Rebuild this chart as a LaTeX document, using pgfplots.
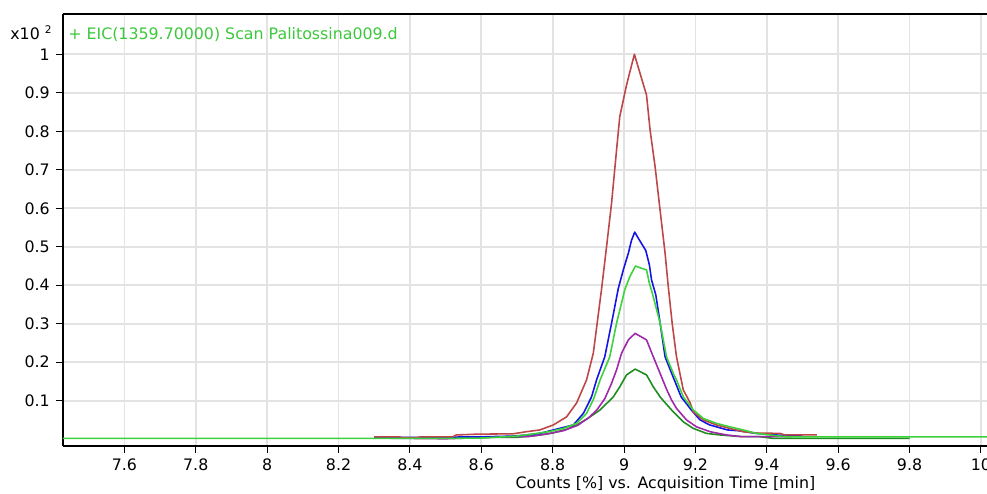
\documentclass[border=0pt]{standalone}
\usepackage{fontspec}
\setmainfont{DejaVu Sans}
\usepackage{pgfplots}
\pgfplotsset{compat=1.18}

\definecolor{cred}{RGB}{190,70,70}
\definecolor{cblue}{RGB}{20,20,230}
\definecolor{clgreen}{RGB}{60,210,60}
\definecolor{cpurple}{RGB}{160,40,170}
\definecolor{cdgreen}{RGB}{30,140,30}
\definecolor{ctitle}{RGB}{60,200,60}

\begin{document}
\begin{tikzpicture}
\begin{axis}[
    at={(0,0)}, anchor=south west,
    scale only axis,
    width=18.48cm, height=8.64cm,
    xmin=7.428, xmax=10.017,
    ymin=-0.0177, ymax=1.1047,
    axis lines*=left,
    axis line style={-, line width=1.1pt, black},
    clip=false,
    xtick={7.6,7.8,8,8.2,8.4,8.6,8.8,9,9.2,9.4,9.6,9.8,10},
    ytick={0.1,0.2,0.3,0.4,0.5,0.6,0.7,0.8,0.9,1},
    tick align=outside,
    tick pos=left,
    major tick length=0.14cm,
    tick style={black, line width=0.6pt},
    grid=major,
    grid style={line width=1pt, black!11},
    /pgf/number format/assume math mode=true,
    tick label style={font=\fontsize{9}{10.8}\selectfont},
    label style={font=\fontsize{9}{10.8}\selectfont},
    xlabel={Counts [\%] vs. Acquisition Time [min]},
    xlabel style={at={(rel axis cs:0.652,0)}, anchor=base, yshift=-0.86cm},
    every axis plot/.append style={line width=0.9pt, line join=round},
]
% dark green
\addplot[cdgreen] coordinates {
(8.30,0.003) (8.55,0.004) (8.70,0.005) (8.75,0.009) (8.80,0.016) (8.84,0.026)
(8.87,0.038) (8.90,0.055) (8.933,0.076) (8.97,0.11) (8.988,0.136) (9.007,0.167)
(9.031,0.182) (9.063,0.167) (9.082,0.136) (9.101,0.11) (9.11,0.10) (9.138,0.071)
(9.166,0.045) (9.194,0.028) (9.231,0.015) (9.269,0.011) (9.33,0.0065) (9.38,0.0065)
(9.42,0.002) (9.80,0.002)
};
% purple
\addplot[cpurple] coordinates {
(8.30,0.003) (8.50,0.001) (8.56,0.003) (8.67,0.0065) (8.73,0.0065) (8.78,0.013)
(8.83,0.022) (8.87,0.036) (8.90,0.055) (8.923,0.075) (8.946,0.105) (8.965,0.145)
(8.979,0.18) (8.993,0.223) (9.012,0.258) (9.031,0.275) (9.063,0.258) (9.082,0.214)
(9.101,0.171) (9.119,0.13) (9.133,0.102) (9.147,0.080) (9.175,0.050) (9.203,0.032)
(9.241,0.0195) (9.287,0.011) (9.33,0.0065) (9.47,0.0065)
};
% blue
\addplot[cblue] coordinates {
(8.30,0.004) (8.60,0.006) (8.689,0.008) (8.727,0.011) (8.764,0.015) (8.802,0.024)
(8.858,0.037) (8.886,0.067) (8.909,0.11) (8.923,0.154) (8.946,0.214) (8.965,0.301)
(8.984,0.392) (8.998,0.44) (9.012,0.483) (9.021,0.517) (9.03,0.538) (9.04,0.522)
(9.061,0.49) (9.071,0.453) (9.077,0.414) (9.089,0.375) (9.101,0.302) (9.115,0.214)
(9.133,0.172) (9.16,0.11) (9.19,0.074) (9.213,0.050) (9.24,0.037) (9.29,0.024)
(9.32,0.022) (9.37,0.015) (9.44,0.010) (9.50,0.008)
};
% red
\addplot[cred] coordinates {
(8.30,0.006) (8.37,0.006) (8.38,0.004) (8.42,0.004) (8.43,0.006) (8.52,0.006)
(8.53,0.011) (8.587,0.013) (8.689,0.014) (8.727,0.0195) (8.764,0.024) (8.802,0.037)
(8.839,0.058) (8.867,0.094) (8.895,0.154) (8.914,0.224) (8.937,0.39) (8.951,0.50)
(8.965,0.613) (8.979,0.751) (8.988,0.838) (9.007,0.92) (9.029,1.0) (9.045,0.95)
(9.063,0.894) (9.073,0.803) (9.087,0.708) (9.101,0.595) (9.115,0.483) (9.124,0.396)
(9.135,0.30) (9.147,0.214) (9.166,0.128) (9.185,0.095) (9.194,0.071) (9.222,0.050)
(9.259,0.037) (9.297,0.028) (9.334,0.0195) (9.371,0.016) (9.437,0.015) (9.45,0.011)
(9.54,0.011)
};
% light green
\addplot[clgreen] coordinates {
(7.428,0.002) (8.30,0.002) (8.50,0.002) (8.60,0.003) (8.70,0.008) (8.755,0.015)
(8.792,0.020) (8.830,0.028) (8.867,0.041) (8.895,0.067) (8.915,0.105) (8.933,0.154)
(8.96,0.214) (8.979,0.301) (9.002,0.388) (9.016,0.422) (9.032,0.45) (9.049,0.444)
(9.063,0.44) (9.071,0.405) (9.079,0.38) (9.101,0.302) (9.119,0.214) (9.138,0.171)
(9.147,0.154) (9.166,0.11) (9.194,0.076) (9.222,0.054) (9.259,0.041) (9.297,0.032)
(9.334,0.024) (9.371,0.015) (9.417,0.010) (9.46,0.006) (10.017,0.006)
};
\draw[black, line width=0.6pt] (rel axis cs:0,1) -- (rel axis cs:1,1);
\node[anchor=base west, inner sep=0pt, xshift=-1.06cm, yshift=-0.52cm, font=\fontsize{9}{10.8}\selectfont]
    at (rel axis cs:0,1) {x10 \textsuperscript{2}};
\node[anchor=base west, inner sep=0pt, xshift=0.1cm, yshift=-0.52cm, text=ctitle, font=\fontsize{9}{10.8}\selectfont]
    at (rel axis cs:0,1) {+ EIC(1359.70000) Scan Palitossina009.d};
\end{axis}
\pgfresetboundingbox
\useasboundingbox (-1.26,-0.96) rectangle (18.48,8.92);
\end{tikzpicture}
\end{document}
